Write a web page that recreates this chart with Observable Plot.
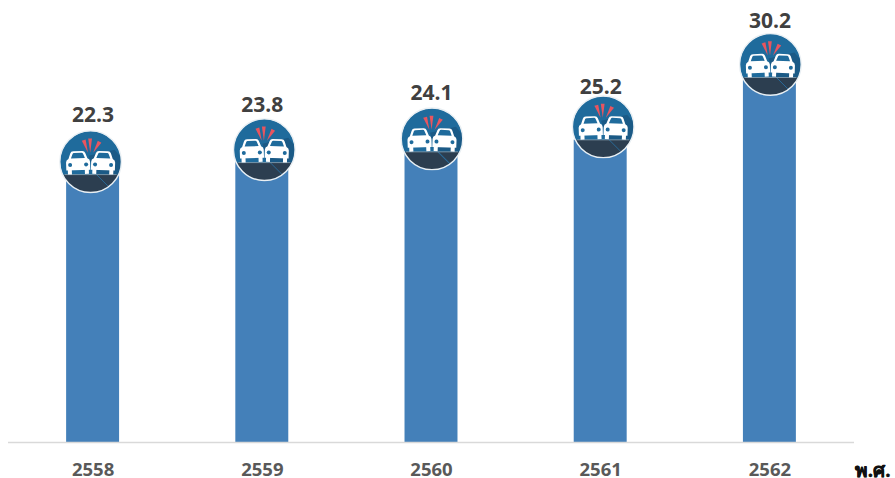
<!DOCTYPE html>
<html>
<head>
<meta charset="utf-8">
<script src="https://cdn.jsdelivr.net/npm/d3@7"></script>
<script src="https://cdn.jsdelivr.net/npm/@observablehq/plot@0.6"></script>
<style>
  html, body { margin: 0; padding: 0; background: #fff; }
  svg { display: block; }
</style>
</head>
<body>
<div id="chart"></div>
<script>
// Yearly figures, Buddhist Era years
const years = ["2558", "2559", "2560", "2561", "2562"];
const values = [22.3, 23.8, 24.1, 25.2, 30.2];
// Height on the value axis at which each year's badge and caption sit
const badgeLevels = [23.4, 24.4, 25.3, 26.3, 31.5];
const captionLevels = [27.3, 28.1, 29.1, 29.6, 35.1];
const unitLabel = "พ.ศ.";

const rows = years.map((year, i) => ({
  year, value: values[i], badge: badgeLevels[i], caption: captionLevels[i]
}));

// Two cars meeting head on, inside a round badge
const carBody = (cx) => `
  <path d="M${cx - 12} 8.5 L${cx - 12} 0.5 Q${cx - 12} -2 ${cx - 9.5} -3 L${cx - 7.5} -8.5 Q${cx - 6.8} -10.5 ${cx - 4.5} -10.5 L${cx + 4.5} -10.5 Q${cx + 6.8} -10.5 ${cx + 7.5} -8.5 L${cx + 9.5} -3 Q${cx + 12} -2 ${cx + 12} 0.5 L${cx + 12} 8.5 Z" fill="#fff"/>
  <path d="M${cx - 7} -3.4 L${cx - 5.2} -8 Q${cx - 4.8} -8.9 ${cx - 3.8} -8.9 L${cx + 3.8} -8.9 Q${cx + 4.8} -8.9 ${cx + 5.2} -8 L${cx + 7} -3.4 Z" fill="#1f6b9c"/>
  <rect x="${cx - 10.5}" y="7" width="4" height="5.5" fill="#fff"/>
  <rect x="${cx + 6.5}" y="7" width="4" height="5.5" fill="#fff"/>
  <circle cx="${cx - 8}" cy="3" r="2" fill="#1f6b9c"/>
  <circle cx="${cx + 8}" cy="3" r="2" fill="#1f6b9c"/>`;

const badgeSvg = `<svg xmlns="http://www.w3.org/2000/svg" viewBox="-32 -32 64 64" width="64" height="64">
  <defs><clipPath id="c"><circle r="30.6"/></clipPath></defs>
  <g clip-path="url(#c)">
    <rect x="-32" y="-32" width="64" height="64" fill="#1f6b9c"/>
    <path d="M-2 -6 L24 -12 L34 0 L34 34 L10 34 Z" fill="#1b5a86"/>
    <rect x="-32" y="13" width="64" height="20" fill="#2c3e50"/>
    <path d="M6 13 L21 28" stroke="#2a6a98" stroke-width="1"/>
    <rect x="-26" y="12.6" width="52" height="0.8" fill="#8da3b3"/>
  </g>
  <g transform="rotate(-2 -12 2)">${carBody(-12.5)}</g>
  <g transform="rotate(2 12 2)">${carBody(12.5)}</g>
  <g fill="#e8555f">
    <path d="M-8.8 -21 L-5 -22.2 L-2.6 -9 Z"/>
    <path d="M-2.4 -23.2 L1.4 -23.2 L-0.4 -9 Z"/>
    <path d="M7.2 -20.8 L10.8 -19 L2.6 -9 Z"/>
  </g>
  <circle r="30.8" fill="none" stroke="#e9eff3" stroke-width="1.4"/>
</svg>`;
const badgeUrl = "data:image/svg+xml;charset=utf-8," + encodeURIComponent(badgeSvg);

// The badges are nudged a little sideways from their bars
const badgeNudge = [-2.5, 2, 0.5, 2.5, 0.5];

const chart = Plot.plot({
  width: 895,
  height: 478,
  marginTop: 0,
  marginLeft: 8,
  marginRight: 41,
  marginBottom: 36,
  style: { fontFamily: "'Open Sans', 'Noto Sans', sans-serif", background: "#fff" },
  x: { domain: years, paddingInner: 0.687, paddingOuter: 0.3435, align: 0.5, round: false, label: null },
  y: { domain: [0, 36.83], axis: null, label: null },
  marks: [
    Plot.barY(rows, { x: "year", y: "value", fill: "#4480b9" }),
    Plot.ruleY([0], { stroke: "#d9d9d9", strokeWidth: 1.5 }),
    ...rows.map((d, i) => Plot.image([d], {
      x: "year", y: "badge", src: () => badgeUrl, width: 64, height: 64, dx: badgeNudge[i]
    })),
    Plot.text(rows, {
      x: "year", y: "caption", text: (d) => d.value.toFixed(1),
      fontSize: 21, fontWeight: 700, fill: "#404040"
    }),
    Plot.axisX({
      tickSize: 0, tickPadding: 28, lineAnchor: "middle", fontSize: 18.5, fontWeight: 700,
      color: "#595959", label: null
    }),
    Plot.text([unitLabel], {
      frameAnchor: "bottom-right", dx: 36, dy: 28, text: (d) => d,
      fontSize: 19, fontWeight: 700, fill: "#111", lineAnchor: "middle", textAnchor: "end",
      stroke: "#111", strokeWidth: 0.4,
      fontFamily: "'Noto Sans', 'DejaVu Sans', sans-serif"
    })
  ]
});
document.getElementById("chart").append(chart);
</script>
</body>
</html>
